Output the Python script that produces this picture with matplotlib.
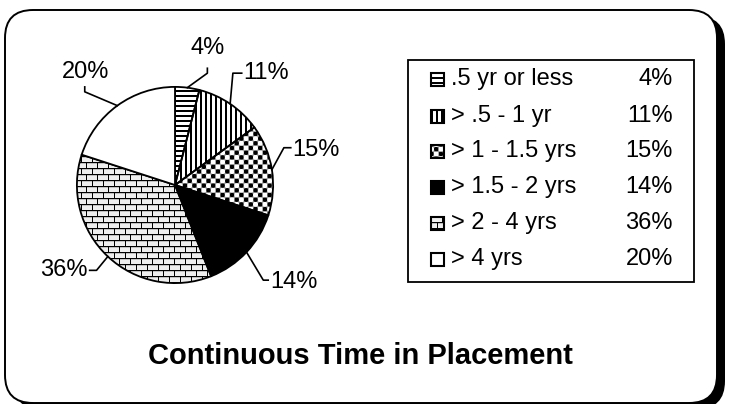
import numpy as np
import matplotlib
matplotlib.use('Agg')
import matplotlib.pyplot as plt
from matplotlib.patches import Rectangle, FancyBboxPatch

# ---- data ----
categories = ['.5 yr or less', '> .5 - 1 yr', '> 1 - 1.5 yrs', '> 1.5 - 2 yrs', '> 2 - 4 yrs', '> 4 yrs']
values = [4, 11, 15, 14, 36, 20]
pct_labels = ['4%', '11%', '15%', '14%', '36%', '20%']
patterns = ['hstripe', 'vstripe', 'checker', 'black', 'brick', 'white']
title = 'Continuous Time in Placement'

plt.rcParams['font.family'] = ['Liberation Sans', 'DejaVu Sans']

W, H = 730, 404
fig = plt.figure(figsize=(W / 100, H / 100), dpi=100)


def texture(kind, h, w):
    yy, xx = np.mgrid[0:h, 0:w]
    if kind == 'hstripe':
        g = np.where(yy % 5 < 2, 0.0, 1.0)
    elif kind == 'vstripe':
        g = np.where(xx % 5 < 2, 0.0, 1.0)
    elif kind == 'checker':
        f = np.cos(2 * np.pi * xx / 9.4) * np.cos(2 * np.pi * yy / 9.4)
        g = np.clip(0.62 - 1.6 * f, 0, 1)
    elif kind == 'brick':
        row = yy // 6
        g = np.full((h, w), 0.93)
        g[yy % 6 == 1] = 0.75
        g[yy % 6 == 0] = 0.0
        g[((xx + (row % 2) * 5) % 11 == 0)] = 0.0
    elif kind == 'black':
        g = np.zeros((h, w))
    else:
        g = np.ones((h, w))
    return g


# ---- overlay axes in pixel coordinates ----
ax0 = fig.add_axes([0, 0, 1, 1])
ax0.set_xlim(0, W)
ax0.set_ylim(H, 0)
ax0.axis('off')

shadow = FancyBboxPatch((13, 16), 712, 393, boxstyle='round,pad=0,rounding_size=28',
                        facecolor='black', edgecolor='black', lw=0, zorder=1)
main = FancyBboxPatch((5, 10), 712, 393, boxstyle='round,pad=0,rounding_size=28',
                      facecolor='white', edgecolor='black', lw=1.4, zorder=2)
ax0.add_patch(shadow)
ax0.add_patch(main)

# legend box
ax0.add_patch(Rectangle((408, 60), 286, 222, facecolor='white', edgecolor='black', lw=1.3, zorder=3))
row_y = [79, 116, 151, 187, 223, 259]
ms = 13
for i, (cat, pl, pat) in enumerate(zip(categories, pct_labels, patterns)):
    y = row_y[i]
    x0 = 431
    tex = texture(pat, ms, ms)
    ax0.imshow(tex, cmap='gray', vmin=0, vmax=1, extent=(x0, x0 + ms, y + ms / 2, y - ms / 2),
               interpolation='nearest', aspect='auto', zorder=4)
    ax0.add_patch(Rectangle((x0, y - ms / 2), ms, ms, facecolor='none', edgecolor='black', lw=1.5, zorder=5))
    ax0.text(451, y, cat, fontsize=17, ha='left', va='center', zorder=5)
    ax0.text(673, y, pl, fontsize=17, ha='right', va='center', zorder=5)

ax0.set_xlim(0, W)
ax0.set_ylim(H, 0)

ax0.text(360, 356, title, fontsize=21, fontweight='bold', ha='center', va='center', zorder=5)

# ---- pie axes ----
lim = 1.58
ax = fig.add_axes([20 / W, 64 / H, 310 / W, 310 / H])
ax.patch.set_alpha(0)
face = []
for p in patterns:
    face.append('black' if p == 'black' else ('white' if p == 'white' else 'none'))
wedges, _ = ax.pie(values, startangle=90, counterclock=False, colors=face, radius=1,
                   wedgeprops=dict(edgecolor='black', linewidth=1.3))
for w, p in zip(wedges, patterns):
    w.set_zorder(3)
    if p in ('hstripe', 'vstripe', 'checker', 'brick'):
        tex = texture(p, 310, 310)
        im = ax.imshow(tex, cmap='gray', vmin=0, vmax=1, extent=(-lim, lim, -lim, lim),
                       interpolation='nearest', zorder=1)
        im.set_clip_path(w)

# leader lines
elbows = [
    [(0.33, 1.14), (0.33, 1.19)],
    [(0.59, 1.14), (0.68, 1.14)],
    [(1.11, 0.38), (1.18, 0.38)],
    [(0.90, -0.97), (0.95, -0.97)],
    [(-0.80, -0.87), (-0.87, -0.87)],
    [(-0.92, 0.95), (-0.92, 1.00)],
]
text_pos = [((0.33, 1.40), 'center'), ((0.70, 1.14), 'left'), ((1.20, 0.36), 'left'),
            ((0.97, -0.99), 'left'), ((-0.89, -0.87), 'right'), ((-0.91, 1.15), 'center')]
for w, el, (tp, ha), pl in zip(wedges, elbows, text_pos, pct_labels):
    mid = np.deg2rad((w.theta1 + w.theta2) / 2)
    pts = [(np.cos(mid), np.sin(mid))] + el
    xs, ys = zip(*pts)
    ax.plot(xs, ys, color='black', lw=1.2, clip_on=False, zorder=4)
    ax.text(tp[0], tp[1], pl, fontsize=17, ha=ha, va='center', zorder=5)

ax.set_xlim(-lim, lim)
ax.set_ylim(-lim, lim)
ax.set_aspect('equal')
ax.axis('off')

fig.savefig('out.png', dpi=100)
